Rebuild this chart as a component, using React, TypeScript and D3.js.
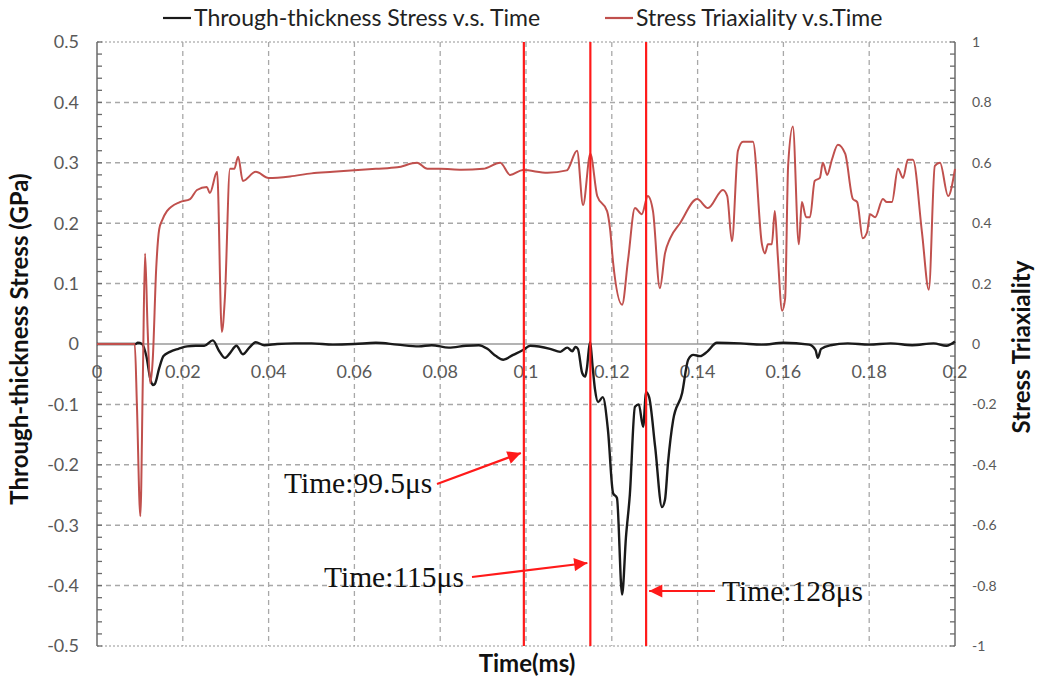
import { useEffect, useRef } from 'react'
import * as d3 from 'd3'

// through-thickness stress (GPa) vs time (ms)
const STRESS_T = [0, 0.009, 0.0095, 0.0105, 0.0115, 0.0125, 0.013, 0.0135, 0.0145, 0.0155, 0.017, 0.019, 0.021, 0.023, 0.025, 0.027, 0.0285, 0.0298, 0.031, 0.0325, 0.034, 0.0355, 0.037, 0.039, 0.042, 0.046, 0.05, 0.055, 0.06, 0.065, 0.07, 0.075, 0.078, 0.082, 0.086, 0.089, 0.091, 0.093, 0.0947, 0.097, 0.0993, 0.101, 0.1056, 0.108, 0.1096, 0.1108, 0.1115, 0.1121, 0.1131, 0.1138, 0.1142, 0.1149, 0.1156, 0.1161, 0.1168, 0.1179, 0.1191, 0.1203, 0.1212, 0.1224, 0.1233, 0.1242, 0.1254, 0.1263, 0.1273, 0.128, 0.1287, 0.1301, 0.1317, 0.1324, 0.1331, 0.1343, 0.1364, 0.1378, 0.139, 0.1406, 0.1422, 0.1445, 0.15, 0.155, 0.16, 0.166, 0.1675, 0.168, 0.1688, 0.171, 0.175, 0.18, 0.185, 0.19, 0.195, 0.198, 0.2]
const STRESS_V = [0, 0, 0.002, 0, -0.02, -0.06, -0.068, -0.066, -0.04, -0.02, -0.013, -0.008, -0.004, -0.003, -0.003, 0.006, -0.012, -0.023, -0.015, -0.003, -0.017, -0.006, 0.003, -0.002, 0, 0.001, 0.001, -0.001, 0, 0.002, -0.001, -0.004, -0.002, -0.006, -0.003, -0.002, -0.008, -0.02, -0.026, -0.018, -0.01, -0.003, -0.008, -0.013, -0.006, -0.012, -0.005, -0.008, -0.048, -0.054, -0.04, 0.003, -0.043, -0.076, -0.096, -0.088, -0.142, -0.247, -0.255, -0.415, -0.32, -0.25, -0.104, -0.1, -0.137, -0.08, -0.088, -0.17, -0.27, -0.258, -0.197, -0.126, -0.081, -0.026, -0.018, -0.02, -0.013, 0.002, 0.001, -0.001, 0.002, -0.001, -0.01, -0.023, -0.008, -0.002, 0.001, -0.001, 0.001, -0.002, 0.001, -0.003, 0.004]

// stress triaxiality vs time (ms)
const TRIAX_T = [0, 0.0088, 0.0093, 0.0101, 0.0107, 0.0112, 0.0118, 0.0124, 0.013, 0.0138, 0.0145, 0.0152, 0.0163, 0.0193, 0.0217, 0.0233, 0.0256, 0.0263, 0.028, 0.0291, 0.0298, 0.031, 0.032, 0.0329, 0.034, 0.037, 0.04, 0.045, 0.05, 0.055, 0.06, 0.065, 0.07, 0.0746, 0.077, 0.08, 0.085, 0.09, 0.094, 0.0963, 0.0993, 0.105, 0.1095, 0.1119, 0.1133, 0.115, 0.1166, 0.1189, 0.1196, 0.1203, 0.1224, 0.1238, 0.1254, 0.127, 0.1284, 0.1296, 0.1312, 0.1324, 0.1336, 0.1359, 0.1399, 0.1424, 0.1459, 0.1469, 0.148, 0.1494, 0.1506, 0.1529, 0.155, 0.1557, 0.1564, 0.1573, 0.158, 0.1587, 0.1597, 0.1604, 0.1611, 0.1622, 0.1636, 0.1643, 0.1653, 0.1662, 0.1673, 0.1685, 0.1692, 0.1702, 0.1713, 0.1727, 0.1744, 0.1762, 0.1772, 0.1785, 0.1795, 0.1802, 0.1814, 0.1832, 0.1841, 0.1853, 0.1867, 0.1879, 0.189, 0.1902, 0.1923, 0.1939, 0.1953, 0.1965, 0.1984, 0.2]
const TRIAX_V = [0, 0, -0.2, -0.57, -0.1, 0.3, 0.05, -0.13, -0.05, 0.25, 0.38, 0.41, 0.44, 0.47, 0.48, 0.51, 0.52, 0.5, 0.57, 0.04, 0.15, 0.58, 0.58, 0.62, 0.54, 0.57, 0.55, 0.555, 0.565, 0.57, 0.575, 0.58, 0.585, 0.6, 0.58, 0.58, 0.577, 0.58, 0.6, 0.56, 0.576, 0.567, 0.575, 0.64, 0.46, 0.63, 0.49, 0.44, 0.38, 0.27, 0.13, 0.28, 0.45, 0.43, 0.49, 0.44, 0.185, 0.3, 0.35, 0.4, 0.48, 0.45, 0.51, 0.49, 0.34, 0.64, 0.67, 0.67, 0.33, 0.3, 0.33, 0.33, 0.44, 0.29, 0.11, 0.15, 0.59, 0.72, 0.33, 0.47, 0.42, 0.42, 0.54, 0.55, 0.6, 0.56, 0.61, 0.66, 0.63, 0.48, 0.47, 0.35, 0.37, 0.43, 0.42, 0.48, 0.47, 0.47, 0.58, 0.55, 0.61, 0.61, 0.37, 0.18, 0.59, 0.6, 0.49, 0.58]

const X_TICKS = [0, 0.02, 0.04, 0.06, 0.08, 0.1, 0.12, 0.14, 0.16, 0.18, 0.2]
const LEFT_TICKS = [0.5, 0.4, 0.3, 0.2, 0.1, 0, -0.1, -0.2, -0.3, -0.4, -0.5]
const RIGHT_TICKS = [1, 0.8, 0.6, 0.4, 0.2, 0, -0.2, -0.4, -0.6, -0.8, -1]

// marked instants (ms) and their labels
const MARK_T = [0.0995, 0.115, 0.128]
const MARK_LABELS = ['Time:99.5μs', 'Time:115μs', 'Time:128μs']

const SANS = 'Lato, "Open Sans", sans-serif'

export default function App() {
  const svgRef = useRef<SVGSVGElement>(null)

  useEffect(() => {
    if (!svgRef.current) return
    const W = 1037, H = 681
    const svg = d3.select(svgRef.current).attr('viewBox', `0 0 ${W} ${H}`)
    svg.selectAll('*').remove()

    const x = d3.scaleLinear().domain([0, 0.2]).range([97, 955])
    const yL = d3.scaleLinear().domain([-0.5, 0.5]).range([646, 42])
    const yR = d3.scaleLinear().domain([-1, 1]).range([646, 42])

    svg.append('rect').attr('width', W).attr('height', H).attr('fill', '#fff')

    // grid
    LEFT_TICKS.filter((d) => d !== 0).forEach((d) => {
      const edge = Math.abs(d) === 0.5
      svg.append('line').attr('x1', x(0)).attr('x2', x(0.2)).attr('y1', yL(d)).attr('y2', yL(d))
        .attr('stroke', edge ? '#b8b8b8' : '#a8a8a8').attr('stroke-width', 1.5)
        .attr('stroke-dasharray', edge ? '2 2' : '5 4')
    })
    X_TICKS.slice(1, -1).forEach((d) => {
      svg.append('line').attr('x1', x(d)).attr('x2', x(d)).attr('y1', yL(0.5)).attr('y2', yL(-0.5))
        .attr('stroke', '#a8a8a8').attr('stroke-width', 1.3).attr('stroke-dasharray', '5 4')
    })

    // zero axis
    svg.append('line').attr('x1', x(0)).attr('x2', x(0.2)).attr('y1', yL(0)).attr('y2', yL(0))
      .attr('stroke', '#9a9a9a').attr('stroke-width', 1.6)

    // left axis with minor ticks
    svg.append('line').attr('x1', x(0)).attr('x2', x(0)).attr('y1', yL(0.5)).attr('y2', yL(-0.5))
      .attr('stroke', '#6a6a6a').attr('stroke-width', 1.5)
    d3.range(-25, 26).forEach((i) => {
      const v = i * 0.02
      svg.append('line').attr('x1', x(0)).attr('x2', x(0) + 5).attr('y1', yL(v)).attr('y2', yL(v))
        .attr('stroke', '#6a6a6a').attr('stroke-width', 1.3)
    })
    // right axis with minor ticks
    svg.append('line').attr('x1', x(0.2)).attr('x2', x(0.2)).attr('y1', yR(1)).attr('y2', yR(-1))
      .attr('stroke', '#6a6a6a').attr('stroke-width', 1.5)
    d3.range(-25, 26).forEach((i) => {
      const v = i * 0.04
      svg.append('line').attr('x1', x(0.2) - 5).attr('x2', x(0.2)).attr('y1', yR(v)).attr('y2', yR(v))
        .attr('stroke', '#6a6a6a').attr('stroke-width', 1.3)
    })

    // tick labels
    LEFT_TICKS.forEach((d) => {
      svg.append('text').attr('x', 79).attr('y', yL(d)).attr('dy', '0.35em')
        .attr('text-anchor', 'end').attr('font-family', SANS).attr('font-size', 18)
        .attr('fill', '#595959').text(String(d))
    })
    RIGHT_TICKS.forEach((d) => {
      svg.append('text').attr('x', 972).attr('y', yR(d)).attr('dy', '0.35em')
        .attr('text-anchor', 'start').attr('font-family', SANS).attr('font-size', 14)
        .attr('fill', '#595959').text(String(d))
    })
    X_TICKS.forEach((d) => {
      svg.append('text').attr('x', x(d)).attr('y', yL(0) + 28).attr('dy', '0.35em')
        .attr('text-anchor', 'middle').attr('font-family', SANS).attr('font-size', 18)
        .attr('fill', '#595959').text(String(d))
    })

    // axis titles
    svg.append('text').attr('transform', `translate(20,${yL(0) - 5}) rotate(-90)`)
      .attr('text-anchor', 'middle').attr('dy', '0.35em').attr('font-family', SANS).attr('font-size', 24)
      .attr('font-weight', 700).attr('fill', '#111').text('Through-thickness Stress (GPa)')
    svg.append('text').attr('transform', `translate(1022,${yL(0) + 3}) rotate(-90)`)
      .attr('text-anchor', 'middle').attr('dy', '0.35em').attr('font-family', SANS).attr('font-size', 24)
      .attr('font-weight', 700).attr('fill', '#111').text('Stress Triaxiality')
    svg.append('text').attr('x', 527).attr('y', 664).attr('dy', '0.35em')
      .attr('text-anchor', 'middle').attr('font-family', SANS).attr('font-size', 24)
      .attr('font-weight', 700).attr('fill', '#111').text('Time(ms)')

    // series
    const stress = STRESS_T.map((t, i) => [x(t), yL(STRESS_V[i])] as [number, number])
    const triax = TRIAX_T.map((t, i) => [x(t), yR(TRIAX_V[i])] as [number, number])
    const line = d3.line<[number, number]>().x((d) => d[0]).y((d) => d[1]).curve(d3.curveMonotoneX)
    svg.append('path').datum(stress).attr('fill', 'none').attr('stroke', '#1a1a1a')
      .attr('stroke-width', 2.4).attr('d', line)
    svg.append('path').datum(triax).attr('fill', 'none').attr('stroke', '#c0504d')
      .attr('stroke-width', 2).attr('d', line)

    // vertical markers
    MARK_T.forEach((t) => {
      svg.append('line').attr('x1', x(t)).attr('x2', x(t)).attr('y1', yL(0.5)).attr('y2', yL(-0.5))
        .attr('stroke', '#ff1a1a').attr('stroke-width', 2.2)
    })

    // annotations
    const defs = svg.append('defs')
    defs.append('marker').attr('id', 'ah').attr('viewBox', '0 0 10 10').attr('refX', 10).attr('refY', 5)
      .attr('markerWidth', 7).attr('markerHeight', 6).attr('markerUnits', 'strokeWidth').attr('orient', 'auto')
      .append('path').attr('d', 'M0,0 L10,5 L0,10 Z').attr('fill', '#ff1a1a')

    const notes = [
      { tx: 284, ty: 493, anchor: 'start', from: [437, 484], toY: 453, toT: MARK_T[0] },
      { tx: 324, ty: 587, anchor: 'start', from: [472, 577], toY: 563, toT: MARK_T[1] },
      { tx: 863, ty: 601, anchor: 'end', from: [715, 591], toY: 591, toT: MARK_T[2] },
    ]
    notes.forEach((n, i) => {
      const tipX = x(n.toT) + (n.anchor === 'end' ? 3 : -3)
      svg.append('line').attr('x1', n.from[0]).attr('y1', n.from[1]).attr('x2', tipX).attr('y2', n.toY)
        .attr('stroke', '#ff1a1a').attr('stroke-width', 2.2).attr('marker-end', 'url(#ah)')
      svg.append('text').attr('x', n.tx).attr('y', n.ty).attr('text-anchor', n.anchor)
        .attr('font-family', '"Liberation Serif", "Times New Roman", serif').attr('font-size', 29.5)
        .attr('fill', '#111').text(MARK_LABELS[i])
    })

    // legend
    const leg = [
      { x0: 163, color: '#1a1a1a', label: 'Through-thickness Stress v.s. Time' },
      { x0: 605, color: '#c0504d', label: 'Stress Triaxiality v.s.Time' },
    ]
    leg.forEach((l) => {
      svg.append('line').attr('x1', l.x0).attr('x2', l.x0 + 28).attr('y1', 18).attr('y2', 18)
        .attr('stroke', l.color).attr('stroke-width', 2.2)
      svg.append('text').attr('x', l.x0 + 31).attr('y', 18).attr('dy', '0.35em')
        .attr('font-family', SANS).attr('font-size', 23).attr('fill', '#222').text(l.label)
    })

    return () => { svg.selectAll('*').remove() }
  }, [])

  return (
    <div style={{ position: 'absolute', left: 0, top: 0, width: 1037, height: 681 }}>
      <svg ref={svgRef} style={{ display: 'block', width: 1037, height: 681 }} />
    </div>
  )
}
